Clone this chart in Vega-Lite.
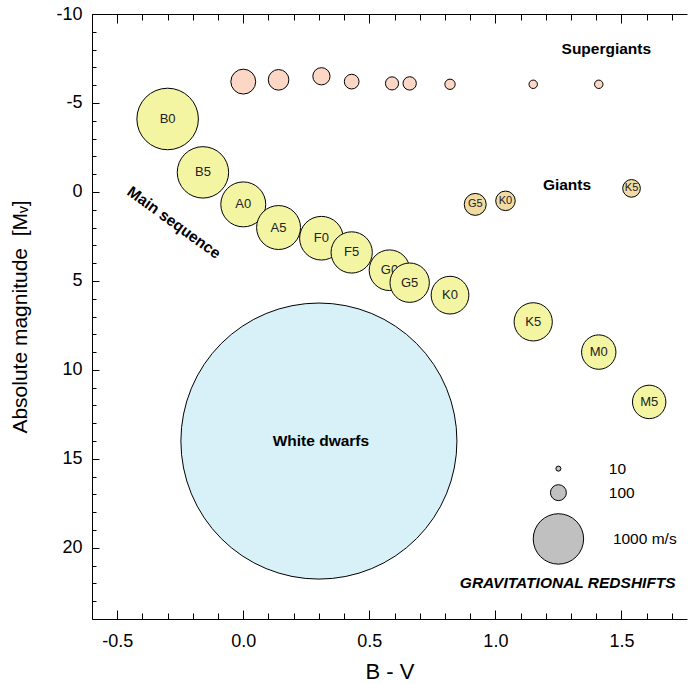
{
  "$schema": "https://vega.github.io/schema/vega-lite/v6.json",
  "width": 595,
  "height": 605,
  "autosize": {"type": "none"},
  "padding": {"left": 92, "top": 14, "right": 1, "bottom": 65},
  "background": "white",
  "config": {
    "view": {"stroke": null},
    "axis": {
      "domainColor": "#000", "tickColor": "#000", "labelColor": "#000", "titleColor": "#000",
      "labelFont": "Liberation Sans", "titleFont": "Liberation Sans", "grid": false,
      "domainWidth": 1, "tickWidth": 1, "labelOverlap": false, "labelFlush": false, "labelBound": false
    },
    "text": {"font": "Liberation Sans"}
  },
  "datasets": {
    "stars": [
      {"label": "", "group": "White dwarfs", "bv": 0.30, "mv": 14.0, "redshift": 30000},
      {"label": "B0", "group": "Main sequence", "bv": -0.30, "mv": -4.1, "redshift": 1490},
      {"label": "B5", "group": "Main sequence", "bv": -0.16, "mv": -1.1, "redshift": 1040},
      {"label": "A0", "group": "Main sequence", "bv": 0.00, "mv": 0.7, "redshift": 795},
      {"label": "A5", "group": "Main sequence", "bv": 0.14, "mv": 2.0, "redshift": 760},
      {"label": "F0", "group": "Main sequence", "bv": 0.31, "mv": 2.6, "redshift": 750},
      {"label": "F5", "group": "Main sequence", "bv": 0.43, "mv": 3.4, "redshift": 670},
      {"label": "G0", "group": "Main sequence", "bv": 0.58, "mv": 4.4, "redshift": 650},
      {"label": "G5", "group": "Main sequence", "bv": 0.66, "mv": 5.1, "redshift": 610},
      {"label": "K0", "group": "Main sequence", "bv": 0.82, "mv": 5.8, "redshift": 560},
      {"label": "K5", "group": "Main sequence", "bv": 1.15, "mv": 7.3, "redshift": 575},
      {"label": "M0", "group": "Main sequence", "bv": 1.41, "mv": 9.0, "redshift": 465},
      {"label": "M5", "group": "Main sequence", "bv": 1.61, "mv": 11.8, "redshift": 440},
      {"label": "G5", "group": "Giants", "bv": 0.92, "mv": 0.7, "redshift": 190},
      {"label": "K0", "group": "Giants", "bv": 1.04, "mv": 0.5, "redshift": 150},
      {"label": "K5", "group": "Giants", "bv": 1.54, "mv": -0.2, "redshift": 123},
      {"label": "", "group": "Supergiants", "bv": 0.00, "mv": -6.2, "redshift": 244},
      {"label": "", "group": "Supergiants", "bv": 0.14, "mv": -6.3, "redshift": 167},
      {"label": "", "group": "Supergiants", "bv": 0.31, "mv": -6.5, "redshift": 117},
      {"label": "", "group": "Supergiants", "bv": 0.43, "mv": -6.2, "redshift": 85},
      {"label": "", "group": "Supergiants", "bv": 0.59, "mv": -6.1, "redshift": 68},
      {"label": "", "group": "Supergiants", "bv": 0.66, "mv": -6.1, "redshift": 70},
      {"label": "", "group": "Supergiants", "bv": 0.82, "mv": -6.05, "redshift": 42},
      {"label": "", "group": "Supergiants", "bv": 1.15, "mv": -6.05, "redshift": 28},
      {"label": "", "group": "Supergiants", "bv": 1.41, "mv": -6.05, "redshift": 28}
    ],
    "notes": [
      {"text": "Supergiants", "bv": 1.44, "mv": -8.05, "kind": "bold"},
      {"text": "Giants", "bv": 1.284, "mv": -0.41, "kind": "bold"},
      {"text": "White dwarfs", "bv": 0.308, "mv": 14.0, "kind": "bold"},
      {"text": "Main sequence", "bv": -0.275, "mv": 1.72, "kind": "angled"},
      {"text": "GRAVITATIONAL REDSHIFTS", "bv": 1.287, "mv": 22.0, "kind": "italic"}
    ],
    "legendLabels": [
      {"label": "10", "bv": 1.45, "mv": 15.55},
      {"label": "100", "bv": 1.45, "mv": 16.9},
      {"label": "1000 m/s", "bv": 1.466, "mv": 19.5}
    ],
    "legendCircles": [
      {"group": "Legend", "bv": 1.25, "mv": 15.55, "redshift": 10},
      {"group": "Legend", "bv": 1.25, "mv": 16.9, "redshift": 100},
      {"group": "Legend", "bv": 1.25, "mv": 19.5, "redshift": 1000}
    ]
  },
  "layer": [
    {
      "encoding": {
        "x": {"field": "bv", "type": "quantitative", "scale": {"domain": [-0.6, 1.76], "nice": false, "zero": false}},
        "y": {"field": "mv", "type": "quantitative", "scale": {"domain": [-10, 24], "reverse": true, "nice": false, "zero": false}}
      },
      "layer": [
        {
          "data": {"name": "stars"},
          "transform": [{"filter": "!(datum.group === 'Main sequence' && datum.label === 'G5')"}],
          "mark": {"type": "circle", "stroke": "#000", "strokeWidth": 1, "opacity": 1},
          "encoding": {
            "x": {"field": "bv", "type": "quantitative",
              "axis": {
                "orient": "bottom",
                "values": [-0.5, 0, 0.5, 1.0, 1.5],
                "labelExpr": "(datum.value < -0.001 ? '-' : '') + format(abs(datum.value), '.1f')",
                "tickSize": -9,
                "labelPadding": 22,
                "labelFontSize": 18,
                "title": "B - V",
                "titleFontSize": 22,
                "titleFontWeight": "normal",
                "titlePadding": 11
              }
            },
            "y": {"field": "mv", "type": "quantitative",
              "axis": {
                "orient": "left",
                "values": [-10, -5, 0, 5, 10, 15, 20],
                "labelExpr": "'' + datum.value",
                "tickSize": -7,
                "labelPadding": 17,
                "labelFontSize": 18,
                "title": "Absolute magnitude \u00a0[Mᵥ]",
                "titleFontSize": 21,
                "titleFontWeight": "normal",
                "titlePadding": 25
              }
            },
            "fill": {"field": "group", "type": "nominal", "legend": null,
              "scale": {"domain": ["Main sequence", "Giants", "Supergiants", "White dwarfs", "Legend"],
                        "range": ["#F4F5A2", "#F0DBA2", "#FCD7C6", "#D8F1F8", "#C0C0C0"]}},
            "size": {"field": "redshift", "type": "quantitative", "legend": null,
              "scale": {"type": "linear", "domain": [0, 30000], "range": [0, 76200], "zero": true}}
          }
        },
        {
          "data": {"name": "stars"},
          "transform": [{"filter": "datum.group === 'Main sequence' && datum.label !== 'G5'"}],
          "mark": {"type": "text", "fontSize": 13, "color": "#222", "align": "center", "baseline": "middle"},
          "encoding": {"text": {"field": "label"}}
        },
        {
          "data": {"name": "stars"},
          "transform": [{"filter": "datum.group === 'Giants'"}],
          "mark": {"type": "text", "fontSize": 11, "color": "#222", "align": "center", "baseline": "middle"},
          "encoding": {"text": {"field": "label"}}
        },
        {
          "data": {"name": "stars"},
          "transform": [{"filter": "datum.group === 'Main sequence' && datum.label === 'G5'"}],
          "mark": {"type": "circle", "stroke": "#000", "strokeWidth": 1, "opacity": 1},
          "encoding": {
            "fill": {"field": "group", "type": "nominal", "legend": null},
            "size": {"field": "redshift", "type": "quantitative", "legend": null}
          }
        },
        {
          "data": {"name": "stars"},
          "transform": [{"filter": "datum.group === 'Main sequence' && datum.label === 'G5'"}],
          "mark": {"type": "text", "fontSize": 13, "color": "#222", "align": "center", "baseline": "middle"},
          "encoding": {"text": {"field": "label"}}
        },
        {
          "data": {"name": "notes"},
          "transform": [{"filter": "datum.kind === 'bold'"}],
          "mark": {"type": "text", "fontSize": 15.5, "fontWeight": "bold", "color": "#000", "align": "center", "baseline": "middle"},
          "encoding": {"text": {"field": "text"}}
        },
        {
          "data": {"name": "notes"},
          "transform": [{"filter": "datum.kind === 'angled'"}],
          "mark": {"type": "text", "fontSize": 15.5, "fontWeight": "bold", "color": "#000", "align": "center", "baseline": "middle", "angle": 36},
          "encoding": {"text": {"field": "text"}}
        }
      ]
    },
    {
      "data": {"name": "legendCircles"},
      "mark": {"type": "circle", "stroke": "#000", "strokeWidth": 1, "opacity": 1},
      "encoding": {
        "x": {"field": "bv", "type": "quantitative",
          "scale": {"domain": [-0.6, 1.76], "nice": false, "zero": false},
          "axis": {
            "orient": "bottom",
            "values": [-0.6,-0.4,-0.3,-0.2,-0.1,0.1,0.2,0.3,0.4,0.6,0.7,0.8,0.9,1.1,1.2,1.3,1.4,1.6,1.7],
            "labels": false, "domain": false, "title": null, "tickSize": -6
          }
        },
        "y": {"field": "mv", "type": "quantitative",
          "scale": {"domain": [-10, 24], "reverse": true, "nice": false, "zero": false},
          "axis": {
            "orient": "left",
            "values": [-9,-8,-7,-6,-4,-3,-2,-1,1,2,3,4,6,7,8,9,11,12,13,14,16,17,18,19,21,22,23],
            "labels": false, "domain": false, "title": null, "tickSize": -4
          }
        },
        "fill": {"field": "group", "type": "nominal", "legend": null},
        "size": {"field": "redshift", "type": "quantitative", "legend": null}
      }
    },
    {
      "data": {"name": "legendLabels"},
      "mark": {"type": "text", "fontSize": 15.5, "color": "#000", "align": "left", "baseline": "middle"},
      "encoding": {
        "x": {"field": "bv", "type": "quantitative",
          "scale": {"domain": [-0.6, 1.76], "nice": false, "zero": false},
          "axis": {
            "orient": "top",
            "values": [-0.5, 0, 0.5, 1.0, 1.5],
            "labels": false, "domain": true, "title": null, "tickSize": -9
          }
        },
        "y": {"field": "mv", "type": "quantitative", "axis": null,
          "scale": {"domain": [-10, 24], "reverse": true, "nice": false, "zero": false}},
        "text": {"field": "label"}
      }
    },
    {
      "data": {"name": "notes"},
      "transform": [{"filter": "datum.kind === 'italic'"}],
      "mark": {"type": "text", "fontSize": 15.5, "fontWeight": "bold", "fontStyle": "italic", "color": "#000", "align": "center", "baseline": "middle"},
      "encoding": {
        "x": {"field": "bv", "type": "quantitative",
          "scale": {"domain": [-0.6, 1.76], "nice": false, "zero": false},
          "axis": {
            "orient": "top",
            "values": [-0.6,-0.4,-0.3,-0.2,-0.1,0.1,0.2,0.3,0.4,0.6,0.7,0.8,0.9,1.1,1.2,1.3,1.4,1.6,1.7],
            "labels": false, "domain": false, "title": null, "tickSize": -6
          }
        },
        "y": {"field": "mv", "type": "quantitative", "axis": null,
          "scale": {"domain": [-10, 24], "reverse": true, "nice": false, "zero": false}},
        "text": {"field": "text"}
      }
    }
  ],
  "resolve": {"axis": {"x": "independent", "y": "independent"}}
}
